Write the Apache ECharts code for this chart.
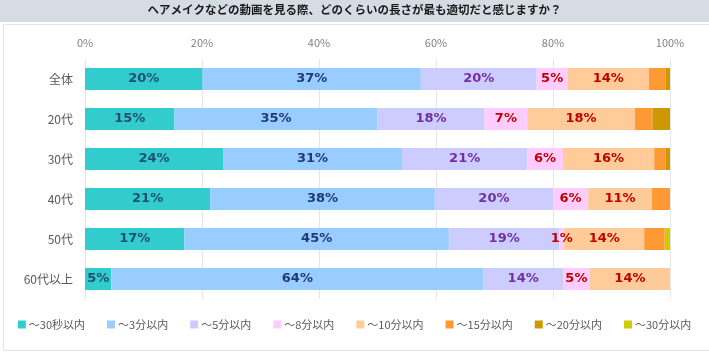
<!DOCTYPE html>
<html><head><meta charset="utf-8">
<script src="https://cdn.jsdelivr.net/npm/echarts@6/dist/echarts.min.js"></script>
<style>html,body{margin:0;padding:0;background:#fff}#c{width:709px;height:357px}</style>
</head><body><div id="c"></div>
<script>
const title = 'ヘアメイクなどの動画を見る際、どのくらいの長さが最も適切だと感じますか？';
const categories = ['全体','20代','30代','40代','50代','60代以上'];
const seriesNames = ['～30秒以内','～3分以内','～5分以内','～8分以内','～10分以内','～15分以内','～20分以内','～30分以内'];
const s30sec = [20.1, 15.3, 23.6, 21.4, 17.0, 4.5];
const s3min  = [37.3, 34.7, 30.6, 38.4, 45.2, 63.6];
const s5min  = [19.8, 18.3, 21.4, 20.2, 18.9, 13.6];
const s8min  = [5.3, 7.3, 6.1, 6.0, 0.8, 4.6];
const s10min = [13.9, 18.4, 15.6, 10.9, 13.7, 13.7];
const s15min = [2.9, 3.0, 2.0, 3.1, 3.5, 0];
const s20min = [0.7, 3.0, 0.7, 0, 0, 0];
const s30min = [0, 0, 0, 0, 0.9, 0];
const xTicks = [0, 20, 40, 60, 80, 100];

const values = [s30sec, s3min, s5min, s8min, s10min, s15min, s20min, s30min];
const colors = ['#33CCCC','#99CCFF','#CCCCFF','#FFCCFF','#FFCC99','#FF9933','#CC9900','#CCCC00'];
const labelColors = ['#1F4E79','#1F3A78','#7030A0','#C00000','#C00000',null,null,null];

const chart = echarts.init(document.getElementById('c'));
chart.setOption({
  animation: false,
  backgroundColor: '#fff',
  graphic: [
    {type:'rect', left:0, top:0, shape:{width:709, height:22}, style:{fill:'#D6DCE4'}, z:-10},
    {type:'rect', left:1, top:22, shape:{width:706, height:326}, style:{fill:'none', stroke:'#E3E3E3', lineWidth:1}, z:-10},
    {type:'text', left:'center', top:4, style:{text:title, font:'bold 11.5px "Noto Sans CJK JP"', fill:'#1A1A1A'}}
  ],
  grid: {left:85, right:39, top:59, bottom:58, containLabel:false},
  legend: {
    data: seriesNames, left:'center', top:314, itemWidth:8, itemHeight:8, itemGap:22,
    icon:'rect', textStyle:{fontSize:11, color:'#595959', fontFamily:'"Noto Sans CJK JP"', padding:[0,0,0,-2]}
  },
  xAxis: {
    type:'value', position:'top', min:0, max:100, interval:20,
    axisLabel:{formatter:v=>xTicks.includes(v)?v+'%':'', color:'#7F7F7F', fontSize:11, fontFamily:'"Noto Sans CJK JP"', margin:11},
    axisLine:{show:false}, axisTick:{show:false},
    splitLine:{lineStyle:{color:'#E6E6E6'}}
  },
  yAxis: {
    type:'category', data:categories, inverse:true,
    axisLine:{show:false}, axisTick:{show:false},
    axisLabel:{color:'#595959', fontSize:12, fontFamily:'"Noto Sans CJK JP"', margin:12}
  },
  series: seriesNames.map((n,i)=>({
    name:n, type:'bar', stack:'t', data:values[i], barWidth:22,
    itemStyle:{color:colors[i]},
    label:{show: i<5, position:'inside', formatter:p=>p.value>0?Math.round(p.value)+'%':'',
      color:labelColors[i]||'#000', fontSize:13, fontWeight:'bold', fontFamily:'"DejaVu Sans"'}
  }))
});
</script></body></html>
